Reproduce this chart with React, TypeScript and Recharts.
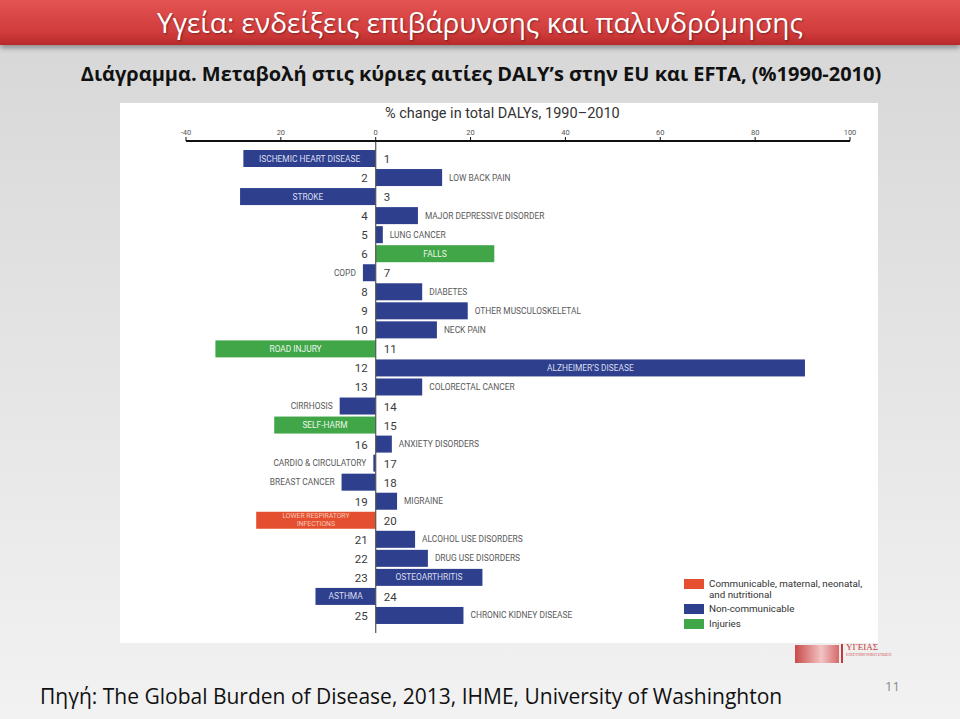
import { BarChart, Bar, XAxis, YAxis, ReferenceLine } from "recharts";

// causes ranked by DALYs (EU + EFTA), % change 1990-2010
const causes = [
  "ISCHEMIC HEART DISEASE",
  "LOW BACK PAIN",
  "STROKE",
  "MAJOR DEPRESSIVE DISORDER",
  "LUNG CANCER",
  "FALLS",
  "COPD",
  "DIABETES",
  "OTHER MUSCULOSKELETAL",
  "NECK PAIN",
  "ROAD INJURY",
  "ALZHEIMER’S DISEASE",
  "COLORECTAL CANCER",
  "CIRRHOSIS",
  "SELF-HARM",
  "ANXIETY DISORDERS",
  "CARDIO & CIRCULATORY",
  "BREAST CANCER",
  "MIGRAINE",
  "LOWER RESPIRATORY INFECTIONS",
  "ALCOHOL USE DISORDERS",
  "DRUG USE DISORDERS",
  "OSTEOARTHRITIS",
  "ASTHMA",
  "CHRONIC KIDNEY DISEASE",
];
const pctChange = [
  -27.9, 14.0, -28.6, 8.9, 1.5, 25.0, -2.7, 9.8, 19.4, 12.9, -33.8, 90.5, 9.8,
  -7.6, -21.4, 3.4, -0.5, -7.2, 4.5, -25.2, 8.3, 11.0, 22.5, -12.7, 18.5,
];
const groups = [
  "ncd", "ncd", "ncd", "ncd", "ncd", "inj", "ncd", "ncd", "ncd", "ncd", "inj", "ncd", "ncd",
  "ncd", "inj", "ncd", "ncd", "ncd", "ncd", "cmnn", "ncd", "ncd", "ncd", "ncd", "ncd",
];
// names printed inside their bar
const labelInside = [
  "ISCHEMIC HEART DISEASE",
  "STROKE",
  "FALLS",
  "ROAD INJURY",
  "ALZHEIMER’S DISEASE",
  "SELF-HARM",
  "LOWER RESPIRATORY INFECTIONS",
  "OSTEOARTHRITIS",
  "ASTHMA",
];
const xTicks = [-40, -20, 0, 20, 40, 60, 80, 100];
const xTickLabels = ["-40", "20", "0", "20", "40", "60", "80", "100"];
const legendKeys = ["cmnn", "ncd", "inj"];
const legendNames = [
  ["Communicable, maternal, neonatal,", "and nutritional"],
  ["Non-communicable"],
  ["Injuries"],
];

const COLORS: Record<string, string> = {
  cmnn: "#e4502f",
  ncd: "#2d3f8d",
  inj: "#40a648",
};
const INSIDE_TEXT: Record<string, string> = {
  cmnn: "#f7c7b8",
  ncd: "#d9ddef",
  inj: "#eaf6ea",
};

const data = causes.map((name, i) => ({
  rank: i + 1,
  name,
  change: pctChange[i],
  group: groups[i],
}));

const labelFont = "Roboto, 'Liberation Sans', Arial, sans-serif";

function BarWithLabels(props: any) {
  const { x, y, width, height, payload } = props;
  const left = Math.min(x, x + width);
  const w = Math.abs(width);
  const positive = payload.change >= 0;
  const zeroX = positive ? left : left + w;
  const cy = y + height / 2;
  const inside = labelInside.includes(payload.name);
  const words = payload.name.split(" ");
  const twoLines = inside && payload.name.length > 24;

  return (
    <g>
      <rect x={left} y={y} width={w} height={height} fill={COLORS[payload.group]} />
      {inside && twoLines ? (
        <>
          <text
            x={left + w / 2}
            y={cy - 3.8}
            textAnchor="middle"
            dominantBaseline="central"
            fontSize={6.8}
            fontFamily={labelFont}
            fill={INSIDE_TEXT[payload.group]}
          >
            {words.slice(0, 2).join(" ")}
          </text>
          <text
            x={left + w / 2}
            y={cy + 3.8}
            textAnchor="middle"
            dominantBaseline="central"
            fontSize={6.8}
            fontFamily={labelFont}
            fill={INSIDE_TEXT[payload.group]}
          >
            {words.slice(2).join(" ")}
          </text>
        </>
      ) : inside ? (
        <text
          x={left + w / 2}
          y={cy}
          textAnchor="middle"
          dominantBaseline="central"
          fontSize={8.4}
          fontFamily={labelFont}
          fill={INSIDE_TEXT[payload.group]}
        >
          {payload.name}
        </text>
      ) : (
        <text
          x={positive ? left + w + 7 : left - 7}
          y={cy}
          textAnchor={positive ? "start" : "end"}
          dominantBaseline="central"
          fontSize={8.4}
          fontFamily={labelFont}
          fill="#5a5a5a"
        >
          {payload.name}
        </text>
      )}
      <text
        x={positive ? zeroX - 8 : zeroX + 8}
        y={cy + 0.5}
        textAnchor={positive ? "end" : "start"}
        dominantBaseline="central"
        fontSize={11.5}
        fontFamily={labelFont}
        fill="#3a3a3a"
      >
        {payload.rank}
      </text>
    </g>
  );
}

export default function App() {
  return (
    <div
      style={{
        position: "absolute",
        left: 0,
        top: 0,
        width: 960,
        height: 719,
        overflow: "hidden",
        background: "linear-gradient(#d6d6d6 0px, #e2e2e2 300px, #f2f2f2 719px)",
        fontFamily: "'Open Sans', sans-serif",
      }}
    >
      <div
        style={{
          position: "absolute",
          left: 0,
          top: 0,
          width: 960,
          height: 45,
          background: "linear-gradient(#e45353, #d13c3c 70%, #b82a2a)",
          boxShadow: "0 3px 5px rgba(0,0,0,0.35)",
          color: "#fff",
          fontSize: 28,
          lineHeight: "45px",
          textAlign: "center",
          textShadow: "1px 1px 2px rgba(0,0,0,0.4)",
        }}
      >
        Υγεία: ενδείξεις επιβάρυνσης και παλινδρόμησης
      </div>
      <div
        style={{
          position: "absolute",
          left: 0,
          top: 60,
          width: 962,
          textAlign: "center",
          fontSize: 20,
          fontWeight: 700,
          color: "#111",
          whiteSpace: "nowrap",
        }}
      >
        Διάγραμμα. Μεταβολή στις κύριες αιτίες DALY’s στην EU και EFTA, (%1990-2010)
      </div>

      <div
        style={{
          position: "absolute",
          left: 120,
          top: 103,
          width: 758,
          height: 540,
          background: "#fff",
        }}
      >
        <div
          style={{
            position: "absolute",
            left: 265,
            top: 2,
            fontSize: 14.5,
            fontFamily: labelFont,
            color: "#333",
            whiteSpace: "nowrap",
          }}
        >
          % change in total DALYs, 1990–2010
        </div>
        <BarChart
          width={758}
          height={540}
          data={data}
          layout="vertical"
          margin={{ top: 24, right: 28, bottom: 10, left: 66 }}
        >
          <XAxis
            type="number"
            orientation="top"
            domain={[-40, 100]}
            ticks={xTicks}
            interval={0}
            height={14}
            tickSize={4}
            tickMargin={2}
            tickFormatter={(v: number) => xTickLabels[xTicks.indexOf(v)]}
            tick={{ fontSize: 7.5, fill: "#555", fontFamily: labelFont }}
            tickLine={{ stroke: "#111" }}
            axisLine={{ stroke: "#111", strokeWidth: 2 }}
          />
          <YAxis type="category" dataKey="rank" hide padding={{ top: 8, bottom: 8 }} />
          <ReferenceLine x={0} stroke="#555" strokeWidth={1.2} />
          <Bar
            dataKey="change"
            barSize={17}
            isAnimationActive={false}
            shape={BarWithLabels}
          />
        </BarChart>
        <div style={{ position: "absolute", left: 564, top: 475, fontFamily: labelFont }}>
          {legendKeys.map((k, i) => (
            <div
              key={k}
              style={{
                display: "flex",
                alignItems: "flex-start",
                marginBottom: i === 0 ? 3 : 4,
              }}
            >
              <div
                style={{
                  width: 20,
                  height: 10,
                  marginTop: 1,
                  background: COLORS[k],
                  flex: "none",
                }}
              />
              <div style={{ marginLeft: 5, fontSize: 9.8, lineHeight: "11px", color: "#333" }}>
                {legendNames[i].map((line) => (
                  <div key={line}>{line}</div>
                ))}
              </div>
            </div>
          ))}
        </div>
      </div>

      <div
        style={{
          position: "absolute",
          left: 795,
          top: 645,
          width: 44,
          height: 18,
          background: "linear-gradient(90deg, #c94a4a, #f2c4c4 60%, #d66a6a)",
        }}
      />
      <div
        style={{
          position: "absolute",
          left: 841,
          top: 644,
          width: 2,
          height: 19,
          background: "#c23a3a",
        }}
      />
      <div
        style={{
          position: "absolute",
          left: 846,
          top: 642,
          fontSize: 9,
          fontFamily: "'Liberation Serif', serif",
          color: "#c23a3a",
          lineHeight: "10px",
        }}
      >
        ΥΓΕΙΑΣ
        <div style={{ fontSize: 4, lineHeight: "5px", color: "#d06060" }}>
          ΕΠΙΣΤΗΜΟΝΙΚΗ ΕΝΩΣΗ
        </div>
      </div>

      <div
        style={{
          position: "absolute",
          left: 40,
          top: 682,
          fontSize: 21,
          color: "#111",
          whiteSpace: "nowrap",
        }}
      >
        Πηγή: The Global Burden of Disease, 2013, IHME, University of Washinghton
      </div>
      <div
        style={{
          position: "absolute",
          left: 885,
          top: 677,
          fontSize: 13,
          color: "#8a8a8a",
        }}
      >
        11
      </div>
    </div>
  );
}
